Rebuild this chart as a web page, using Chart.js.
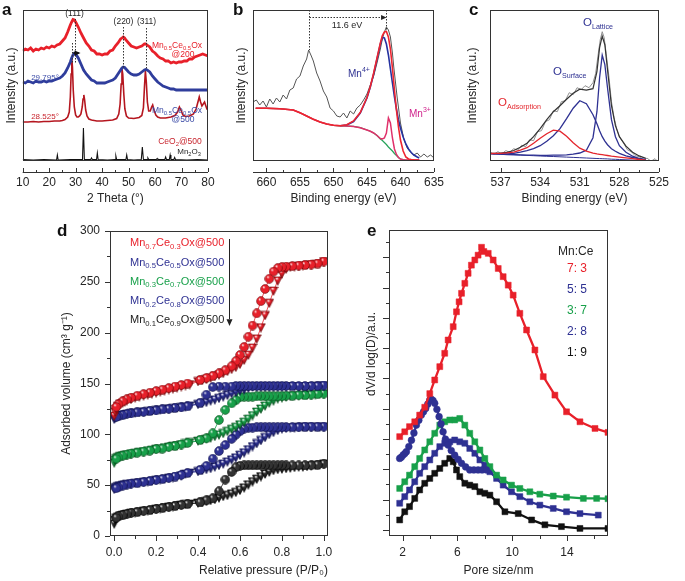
<!DOCTYPE html>
<html lang="en"><head><meta charset="utf-8"><title>Mn-Ce oxide characterisation</title>
<script src="https://cdn.jsdelivr.net/npm/chart.js@4.4.1/dist/chart.umd.min.js"></script>
<style>
html,body{margin:0;padding:0;background:#fff}
#wrap{position:relative;width:685px;height:581px;overflow:hidden;background:#fff}
canvas{position:absolute;display:block}
</style></head><body><div id="wrap">
<canvas id="ca" width="232" height="205" style="left:0px;top:0px;width:232px;height:205px"></canvas>
<canvas id="cb" width="228" height="205" style="left:232px;top:0px;width:228px;height:205px"></canvas>
<canvas id="cc" width="225" height="205" style="left:460px;top:0px;width:225px;height:205px"></canvas>
<canvas id="cd" width="345" height="366" style="left:0px;top:215px;width:345px;height:366px"></canvas>
<canvas id="ce" width="340" height="366" style="left:345px;top:215px;width:340px;height:366px"></canvas>
</div>
<script>
// ================= DATA =================
// --- panel a: XRD (2 theta, intensity a.u.)
const xrdGridTheta = [10,11,12,13,14,15,16,17,18,19,20,21,22,23,24,25,26,27,28,28.5,29,29.5,30,31,32,33,34,35,36,37,38,39,40,41,42,43,44,45,46,47,47.5,48,48.5,49,50,51,52,53,54,55,56,56.5,57,58,59,60,61,62,63,64,65,66,67,68,69,70,71,72,73,74,75,76,77,78,79,80];
const xrd200Int = [111,113,112,114,111,113,112,114,113,115,114,116,115,117,118,121,124,130,137,140,142.5,142,140,135,129,124,119,116,112,111,108,108,107,108,108,111,112,116,119,123,124,125,124,122,119,116,115,114,115,116,118,118,117,115,111,109,106,104,103,101,101,99,100,99,100,100,101,101,103,103,105,106,107,108,107,106];
const xrd500Int = [80,79,81,80,79,81,80,80,81,80,81,81,82,83,84,86,89,94,100,104,107,108.5,108,104,98,92,88,85,82,81,79,79,79,79,80,81,82,84,88,92,94,95,94.5,93,90,88,87,87,88,90,92,92.5,92,90,86,83,80,78,76,75,74,73,73,72,72,72,72,72,72,72,72,72,72,72,72,72];
const ceo2Theta = [10,12,14,16,18,20,22,24,25,26,27,27.6,28.0,28.3,28.55,28.8,29.1,29.5,30,30.5,31,31.5,32,32.5,32.8,33.1,33.4,33.8,34.3,35,36,38,40,42,44,45.5,46.3,46.8,47.2,47.5,47.8,48.2,48.6,49.2,50,52,54,55,55.6,56.0,56.35,56.7,57.1,57.6,58.2,58.7,59.1,59.6,60.3,61,62,64,66,67.5,68.5,69.2,69.8,70.5,71.5,73,74.5,75.5,76.2,76.7,77.2,77.7,78.2,78.7,79.2,79.6,80];
const ceo2Int = [40,40,40.5,40,40.5,40.5,41,41,41.5,42.5,45,50,65,88,104,95,72,55,47,45,45,46,48,55,63,67,62,52,46,43,42,41,41,41.5,42,43.5,48,58,78,93,88,68,53,46,44,43.5,44.5,46.5,54,75,91,80,60,51,51,55,57,52,47,45,44,44,45,46.5,50,55,52,47,45.5,46,48,53,60,65,60,56,58,60,56,53,52];
const mn2o3Theta = [10,14,18,22.8,23.1,23.4,28,32.6,32.95,33.3,35.7,36.0,36.3,37.9,38.2,38.5,42,44.9,45.2,45.5,49.0,49.3,49.6,52,54.8,55.2,55.6,57.0,57.3,57.6,60.5,60.8,61.1,63.7,64.0,64.3,65.4,65.7,66.0,67.1,67.4,67.7,72,76,80];
const mn2o3Int = [2.5,2,2.5,2,7,2,2.5,2.5,34,2.5,2.5,4,2.5,2.5,9,2.5,2,2.5,6,2.5,2.5,7,2.5,2,2.5,15,2.5,2.5,4,2.5,2.5,3.5,2.5,2.5,5,2.5,2.5,7,2.5,2.5,4.5,2.5,2,2.5,2];
const xrdTicks = [10,20,30,40,50,60,70,80];
const xrdMinor = [15,25,35,45,55,65,75];

// --- panel b: Mn 2p XPS
const bDataEnergy = [662,661.5,661,660.5,660,659.5,659,658.5,658,657.5,657,656.5,656,655.5,655,654.5,654,653.7,653.3,653,652.5,652,651.5,651,650.5,650,649.5,649,648.5,648,647.5,647,646.5,646,645.5,645,644.5,644,643.5,643,642.7,642.4,642.1,641.8,641.5,641.2,641,640.5,640,639.5,639,638.5,638,637.5,637,636.5,636,635.5,635];
const bDataIntensity = [63,65,60,64,58,66,61,67,63,70,66,75,77,86,89,99,106,115,109,104,92,84,74,68,57,54,49,48,52,47,54,51,57,60,65,71,80,89,102,116,126,133,138,135,128,112,98,68,42,26,17,13,10,12,8,11,8,10,7];
const bFitEnergy = [661.6,660,658,656,655,654,653,652,651,650,649,648,647,646,645,644.5,644,643.5,643,642.7,642.4,642.1,641.8,641.5,641.2,640.9,640.6,640.3,640,639.6,639.2,638.8,638.4,638,637.5,637.2];
const bBackground = [56.7,56.7,56.3,55,52.3,49,45.7,43,41,39.7,39.2,38.9,38.6,37.3,35,33.7,32,29.5,26,24.5,22.5,20.5,18,16,14,11.5,9.5,7.5,6,5.3,5,5,5,5,5,5];
const bMn3 = [56.7,56.7,56.3,55,52.3,49,45.7,43,41,39.7,39.2,38.9,38.6,37.3,35,33.7,32,29.5,26.5,26,27,32,47,42,27,16,10.5,7.5,6,5.3,5,5,5,5,5,5];
const bMn4 = [null,null,null,null,null,null,null,null,null,null,39.2,40,43.5,52,67,78,91,106,121,127.5,127,121,110,96,82,68,56,45,37,28,21,16,12.5,10,8,7];
const bEnvelope = [56.7,56.7,56.3,55,52.3,49,45.7,43,41,39.7,39.2,40.2,44,52.5,67.5,78.5,92,107,122,129.5,133,133.5,128,116,97,75,55,38,25,14,8,6,5.5,5.2,5,5];
const bTicks = [660,655,650,645,640,635];
const bMinor = [657.5,652.5,647.5,642.5,637.5];

// --- panel c: O 1s XPS
const cEnergy = [537.8,537,536.5,536,535.5,535,534.5,534,533.5,533,532.5,532,531.5,531,530.5,530,529.7,529.5,529.3,529.1,528.9,528.6,528.3,528,527.5,527,526.5,526];
const cBackground = [8.0,7.5,7.2,6.9,6.6,6.3,6.0,5.7,5.4,5.2,4.9,4.6,4.3,4.0,3.7,3.4,3.2,3.1,3.0,2.9,2.8,2.5,2.4,2.2,1.9,1.6,1.3,1.0];
const cAdsorption = [8.2,8.4,8.8,9.6,11.5,14.0,18.5,23.5,28.0,31.5,30.5,25.5,19.0,13.5,10.5,8.5,7.8,7.4,7.0,6.6,6.2,5.6,5.1,4.6,3.8,3.0,2.2,1.5];
const cSurface = [8.1,7.8,7.8,8.4,9.6,11.0,13.0,16.0,20.5,26.0,33.0,43.0,53.5,61.0,58.0,47.0,38.0,31.0,25.0,20.5,17.0,13.0,10.5,8.3,5.8,4.2,3.0,2.0];
const cLattice = [8.0,7.5,7.2,7.0,6.8,6.6,6.5,6.4,6.4,6.5,6.6,6.9,7.5,8.7,11.5,24.0,50.0,84.0,106.5,97.0,74.0,42.0,25.0,16.0,9.5,5.5,3.2,1.8];
const cEnvelope = [8.3,8.7,9.4,11.2,14.5,18.5,25.0,33.0,42.0,50.0,56.0,62.5,68.5,72.5,71.5,73.0,90.0,114.0,125.5,117.0,92.0,56.0,36.0,25.0,15.5,9.5,5.8,3.3];
const cDataEnergy = [537.8,537.5,537.2,536.9,536.6,536.3,536.0,535.7,535.4,535.1,534.8,534.5,534.2,533.9,533.6,533.3,533.0,532.7,532.4,532.1,531.8,531.5,531.2,530.9,530.6,530.3,530.0,529.8,529.6,529.45,529.3,529.15,529.0,528.8,528.6,528.4,528.2,528.0,527.7,527.4,527.1,526.8,526.5,526.2,525.9,525.6,525.3,525.0,524.8];
const cDataIntensity = [9.5,7.5,10,8,11,9.5,13,11.5,16.5,15,22,21,30,31,40,42,51,50,60,61,69,67,74,72,76,74,79,88,108,122,130,124,108,86,60,44,33,25,19,12,10,6,5,2,3.5,0.5,3,-1,2];
const cTicks = [537,534,531,528,525];
const cMinor = [535.5,532.5,529.5,526.5];

// --- panel d: N2 isotherms (P/P0, cm3/g)
const isothermLabels = ['Mn_{0.7}Ce_{0.3}Ox@500','Mn_{0.5}Ce_{0.5}Ox@500','Mn_{0.3}Ce_{0.7}Ox@500','Mn_{0.2}Ce_{0.8}Ox@500','Mn_{0.1}Ce_{0.9}Ox@500'];
const adsP = [0.0,0.005,0.01,0.02,0.03,0.04,0.05,0.06,0.08,0.10,0.12,0.14,0.16,0.18,0.20,0.22,0.24,0.26,0.28,0.30,0.32,0.34,0.36,0.40,0.42,0.44,0.46,0.48,0.50,0.52,0.54,0.56,0.58,0.60,0.62,0.64,0.66,0.68,0.70,0.72,0.74,0.76,0.78,0.80,0.82,0.84,0.86,0.88,0.90,0.92,0.94,0.96,0.98,1.0];
const desP = [1.0,0.97,0.94,0.91,0.88,0.85,0.82,0.80,0.78,0.76,0.74,0.72,0.70,0.68,0.66,0.64,0.62,0.60,0.58,0.56,0.53,0.50,0.47,0.44,0.41,0.35,0.32,0.29,0.26,0.23,0.20,0.17,0.14,0.11,0.08,0.06,0.04,0.02,0.01];
const ads73 = [118,122,125,128,130,131,132,133,134.5,136,137,138,139,140,141,142,143,144,145,146,147,148,149,152,153,154,155.5,157,158.5,160,162,164,166,169,173,178,185,194,205,217,229,241,251,258,262.5,264.5,265,265.5,266,266.5,267,267.5,268,270];
const des73 = [270,268,267,266.5,266,265.5,265,264.5,263.5,260,253,243,231,219,207,196,186,178,172,167,163,160,157.5,155.5,153.5,150,148.5,147,145.5,144,142.5,141,139.5,138,136,134.5,132.5,129.5,127];
const ads55 = [115,116.5,117,118,118.5,119,119.5,120,120.5,121,121.5,122,122.5,123,123.5,124,124.5,125,125.5,126,126.5,127,128,129.5,130.5,131.5,133,134,135.5,137,138.5,140,141.5,143,144,145.5,146.5,147,147,147,147,147,147,147,147,147,147,147,147,147,147,147.5,147.5,148];
const des55 = [148,147.5,147.5,147.5,147.5,147.5,147.5,147.5,147.5,147.5,147.5,147.5,147.5,147.5,147.5,147.5,147.5,147.5,147.5,147,147,147,146.5,139,131,127.5,126.5,126,125,124.5,123.5,123,122,121.5,120.5,120,119,118,117];
const ads37 = [72,75,76.5,77.5,78.5,79,79.5,80,81,81.5,82.5,83,84,84.5,85.5,86,87,87.5,88.5,89,90,91,92,93.5,94.5,95.5,96.5,98,99.5,101,103,105,107,109.5,112,115,118.5,122,125,128,131,133,135,136,137,137.5,138,138,138.5,138.5,139,139,139.5,140];
const des37 = [140,139.5,139,138.5,138.5,138,138,137.5,137.5,137.5,137.5,137.5,137.5,137.5,137,137,137,136.5,133.5,130.5,124,114,101,96,94.5,91.5,90,88.5,87.5,86,85.5,84,83,82,81,80,79,77.5,76];
const ads28 = [46,47,48,49,49.5,50,50.5,51,51.5,52,52.5,53,53.5,54,55,55.5,56,57,57.5,58.5,59.5,61,62,63.5,64.5,65.5,66.5,68,69.5,71,73,75,77,79.5,82,85,88,91,94,97,100,102,104,105.5,106,106.5,106.5,107,107,107,107,107,107,107.5];
const des28 = [107.5,107.5,107.5,107.5,107,107,107,107,107,107,107,107,107,107,106.5,106.5,105.5,103,99.5,95.5,89.5,83.5,76,69,65,62,60,58.5,57,56,55,54,53,52,51.5,50.5,49.5,48,47];
const ads19 = [12,16,18,19,20,20.5,21,21.5,22.5,23,24,24.5,25,25.5,26.5,27,28,28.5,29,30,30.5,31,31.5,32.5,33,34,35,36,37.5,39,40,41.5,43,45,47.5,50.5,53.5,56,58.5,61,63,64.5,65.5,66,66.5,67,67.5,68,68,68.5,69,69.5,70,71];
const des19 = [71,70,69.5,69.5,69.5,69.5,69.5,69.5,69.5,69.5,69.5,69.5,69.5,69.5,69.5,69.5,69.5,69,67.5,63,55.5,44,37,35,33,31.5,30.5,29.5,28.5,27.5,26.5,25.5,24.5,23.5,22.5,21.5,20.5,19.5,18];
const dTicksX = [0,0.2,0.4,0.6,0.8,1.0];
const dMinorX = [0.1,0.3,0.5,0.7,0.9];
const dTicksY = [0,50,100,150,200,250,300];
const dMinorY = [25,75,125,175,225,275];

// --- panel e: pore size distributions (nm, dV/dlogD a.u.)
const ratioLabels = ['7: 3','5: 5','3: 7','2: 8','1: 9'];
const pore73 = [1.78,2.15,2.5,2.88,3.24,3.61,3.98,4.34,4.71,5.07,5.32,5.69,5.93,6.12,6.3,6.54,6.78,7.02,7.27,7.51,7.76,7.93,8.25,8.61,8.98,9.34,9.71,10.07,10.56,11.05,11.66,12.27,13.12,13.97,14.95,16.05,17.0];
const dv73 = [3.08,3.24,3.41,3.57,3.79,4.05,4.5,4.95,5.39,5.83,6.27,6.71,7.2,7.53,7.81,8.14,8.47,8.74,8.91,9.07,9.33,9.19,9.13,8.91,8.63,8.36,8.08,7.75,7.15,6.6,5.94,5.06,4.45,3.9,3.57,3.35,3.22];
const pore55 = [1.78,1.9,2.03,2.15,2.27,2.45,2.64,2.82,3.0,3.18,3.36,3.52,3.68,3.83,3.98,4.1,4.22,4.34,4.5,4.66,4.8,4.95,5.12,5.32,5.55,5.8,6.05,6.3,6.6,6.9,7.2,7.51,7.8,8.12];
const dv55 = [2.36,2.4,2.47,2.52,2.58,2.75,2.96,3.2,3.46,3.62,3.79,3.9,4.01,4.15,4.29,4.31,4.27,4.18,3.98,3.74,3.5,3.24,3.0,2.8,2.62,2.47,2.33,2.2,2.08,1.98,1.98,1.98,1.98,1.98];
const pore37 = [1.78,2.15,2.5,2.88,3.24,3.61,3.98,4.34,4.71,5.07,5.44,5.8,6.17,6.54,6.9,7.27,7.64,8.0,8.37,8.86,9.34,9.95,10.56,11.29,12.02,13.0,13.97,15.2,16.17,17.0];
const dv37 = [1.37,1.59,1.81,2.09,2.36,2.64,2.91,3.19,3.46,3.57,3.63,3.63,3.68,3.46,3.19,2.91,2.64,2.36,2.09,1.81,1.65,1.48,1.37,1.26,1.18,1.12,1.08,1.04,1.04,1.03];
const pore28 = [1.78,2.15,2.5,2.88,3.24,3.61,3.98,4.34,4.71,5.07,5.44,5.8,6.17,6.54,6.9,7.27,7.64,8.0,8.37,8.86,9.34,9.95,10.56,11.29,12.02,13.0,13.97,14.95,16.29];
const dv28 = [0.88,1.1,1.32,1.59,1.87,2.09,2.31,2.53,2.75,2.86,2.91,2.97,2.91,2.86,2.69,2.53,2.31,2.14,1.92,1.7,1.48,1.26,1.1,0.93,0.82,0.71,0.6,0.54,0.49];
const pore19 = [1.78,2.15,2.5,2.88,3.24,3.61,3.98,4.34,4.71,5.07,5.44,5.69,5.93,6.17,6.54,6.9,7.27,7.64,8.0,8.37,8.86,9.47,10.44,11.42,12.39,13.6,14.95,17.0];
const dv19 = [0.33,0.6,0.77,1.04,1.32,1.54,1.7,1.87,2.03,2.2,2.36,2.25,1.98,1.76,1.54,1.48,1.43,1.26,1.21,1.15,0.93,0.6,0.54,0.33,0.17,0.11,0.05,0.05];
const eTicksX = [2,6,10,14];
const eMinorX = [4,8,12,16];
const eTicksY = [0,1,2,3,4,5,6,7,8,9];
const eMinorY = [0.5,1.5,2.5,3.5,4.5,5.5,6.5,7.5,8.5,9.5];

// ================= STYLE / HELPERS =================
const FONT = '"Liberation Sans", Arial, Helvetica, sans-serif';
const INK = '#262626';
const RED = '#e8202a', BLUE = '#2e3192', GREEN = '#18a04a', CRIMSON = '#c8252e', MAGENTA = '#cf1f8a';
Chart.defaults.font.family = FONT;
Chart.defaults.color = INK;

const pts = (xs, ys) => xs.map((x, i) => ({x: x, y: ys[i]})).filter(p => p.y !== null && p.y !== undefined);
function lineDs(xs, ys, color, width) {
  return {data: pts(xs, ys), showLine: true, borderColor: color, backgroundColor: color, borderWidth: width,
          pointRadius: 0, pointHoverRadius: 0, fill: false, tension: 0};
}

function rich(ctx, str, x, y, size, color, align, subScale) {
  const segs = []; const re = /([_^])\{([^}]*)\}/g; let last = 0, m;
  while ((m = re.exec(str))) {
    if (m.index > last) segs.push({t: str.slice(last, m.index), k: 'n'});
    segs.push({t: m[2], k: m[1] === '_' ? 's' : 'p'}); last = re.lastIndex;
  }
  if (last < str.length) segs.push({t: str.slice(last), k: 'n'});
  const sub = size * (subScale || 0.7);
  const fontOf = s => (s.k === 'n' ? size : sub) + 'px ' + FONT;
  let w = 0;
  segs.forEach(s => { ctx.font = fontOf(s); s.w = ctx.measureText(s.t).width; w += s.w; });
  let cx = align === 'center' ? x - w / 2 : align === 'right' ? x - w : x;
  ctx.save(); ctx.fillStyle = color; ctx.textBaseline = 'middle'; ctx.textAlign = 'left';
  segs.forEach(s => {
    ctx.font = fontOf(s);
    const dy = s.k === 's' ? size * 0.33 : s.k === 'p' ? -size * 0.38 : 0;
    ctx.fillText(s.t, cx, y + dy); cx += s.w;
  });
  ctx.restore();
}
function letter(ctx, t, x, y) {
  ctx.save(); ctx.font = 'bold 17px ' + FONT; ctx.fillStyle = '#111'; ctx.textBaseline = 'alphabetic'; ctx.textAlign = 'left';
  ctx.fillText(t, x, y); ctx.restore();
}
function dotted(ctx, x1, y1, x2, y2) {
  ctx.save(); ctx.strokeStyle = '#333'; ctx.lineWidth = 1; ctx.setLineDash([1.5, 1.5]);
  ctx.beginPath(); ctx.moveTo(x1, y1); ctx.lineTo(x2, y2); ctx.stroke(); ctx.restore();
}
function head(ctx, x, y, ang, s, color) {
  ctx.save(); ctx.translate(x, y); ctx.rotate(ang); ctx.fillStyle = color;
  ctx.beginPath(); ctx.moveTo(0, 0); ctx.lineTo(-s * 1.7, -s * 0.75); ctx.lineTo(-s * 1.7, s * 0.75); ctx.closePath(); ctx.fill();
  ctx.restore();
}
const px5 = v => Math.round(v) + 0.5;

// decoration registry (box, ticks, notes) keyed by canvas id
const DECO = {};
const decoPlugin = {
  id: 'deco',
  afterDraw(chart) {
    const d = DECO[chart.canvas.id]; if (!d) return;
    const ctx = chart.ctx, a = chart.chartArea, xs = chart.scales.x, ys = chart.scales.y;
    ctx.save();
    ctx.strokeStyle = '#333'; ctx.lineWidth = 1;
    ctx.strokeRect(px5(a.left), px5(a.top), Math.round(a.right) - Math.round(a.left) - 1, Math.round(a.bottom) - Math.round(a.top) - 1);
    if (d.xt) {
      const t = d.xt; const y0 = t.y === 'bottom' ? Math.round(a.bottom) : t.y;
      ctx.beginPath();
      if (t.line) { ctx.moveTo(a.left, y0 + 0.5); ctx.lineTo(a.right, y0 + 0.5); }
      t.major.forEach(v => { const p = px5(xs.getPixelForValue(v)); ctx.moveTo(p, y0); ctx.lineTo(p, y0 + t.dir * t.maj); });
      t.minor.forEach(v => { const p = px5(xs.getPixelForValue(v)); ctx.moveTo(p, y0); ctx.lineTo(p, y0 + t.dir * t.min); });
      ctx.stroke();
    }
    if (d.yt) {
      const t = d.yt; const x0 = Math.round(a.left);
      ctx.beginPath();
      t.major.forEach(v => { const p = px5(ys.getPixelForValue(v)); ctx.moveTo(x0, p); ctx.lineTo(x0 - t.maj, p); });
      t.minor.forEach(v => { const p = px5(ys.getPixelForValue(v)); ctx.moveTo(x0, p); ctx.lineTo(x0 - t.min, p); });
      ctx.stroke();
    }
    ctx.restore();
    if (d.draw) d.draw(ctx, chart);
  }
};

function axisX(o) {
  return {
    type: 'linear', position: 'bottom', min: o.min, max: o.max, reverse: !!o.reverse,
    grid: {display: false, drawTicks: false}, border: {display: false},
    ticks: {autoSkip: false, maxRotation: 0, minRotation: 0, padding: o.pad, color: INK,
            font: {family: FONT, size: 12, lineHeight: 1}, callback: o.fmt || (v => String(v))},
    title: {display: !!o.title, text: o.title, color: INK, align: o.align || 'center',
            font: {family: FONT, size: 12, lineHeight: 1}, padding: {top: 0, bottom: o.titlePad || 0}},
    afterBuildTicks: s => { s.ticks = o.ticks.map(v => ({value: v})); },
    afterFit: s => { s.height = o.h; }
  };
}
function axisY(o) {
  return {
    type: 'linear', position: 'left', min: o.min, max: o.max,
    grid: {display: false, drawTicks: false}, border: {display: false},
    ticks: {display: !!o.labels, autoSkip: false, padding: o.pad || 0, color: INK, font: {family: FONT, size: 12, lineHeight: 1}},
    title: {display: !!o.title, text: o.title, color: INK, font: {family: FONT, size: 12, lineHeight: 1}, padding: {top: o.titlePad || 0, bottom: 0}},
    afterBuildTicks: s => { s.ticks = (o.ticks || [o.min, o.max]).map(v => ({value: v})); },
    afterFit: s => { s.width = o.w; }
  };
}
function make(id, W, H, L, T, R, B, datasets, x, y) {
  x.h = H - B; y.w = L;
  return new Chart(document.getElementById(id), {
    type: 'scatter',
    data: {datasets: datasets},
    options: {
      responsive: false, animation: false, devicePixelRatio: 1,
      layout: {padding: {left: 0, top: T, right: W - R, bottom: 0}},
      plugins: {legend: {display: false}, tooltip: {enabled: false}},
      events: [],
      scales: {x: axisX(x), y: axisY(y)}
    },
    plugins: [decoPlugin]
  });
}

// marker images for isotherms (shaded spheres / triangles)
function sphere(color, dark, d) {
  const c = document.createElement('canvas'); c.width = c.height = d;
  const g = c.getContext('2d'); const r = d / 2;
  const grd = g.createRadialGradient(r * 0.7, r * 0.6, 0.2, r, r, r);
  grd.addColorStop(0, '#ffffff'); grd.addColorStop(0.28, color); grd.addColorStop(0.8, color); grd.addColorStop(1, dark);
  g.fillStyle = grd; g.beginPath(); g.arc(r, r, r - 0.6, 0, Math.PI * 2); g.fill();
  g.strokeStyle = dark; g.lineWidth = 0.6; g.stroke();
  return c;
}
function triDown(color, dark, d) {
  const c = document.createElement('canvas'); c.width = c.height = d;
  const g = c.getContext('2d'); const r = d / 2;
  const grd = g.createRadialGradient(r * 0.8, r * 0.5, 0.2, r, r * 0.8, r);
  grd.addColorStop(0, '#ffffff'); grd.addColorStop(0.3, color); grd.addColorStop(1, dark);
  g.fillStyle = grd; g.beginPath(); g.moveTo(0.6, 1); g.lineTo(d - 0.6, 1); g.lineTo(r, d - 0.6); g.closePath(); g.fill();
  g.strokeStyle = dark; g.lineWidth = 0.6; g.stroke();
  return c;
}
function isoDs(xs, ys, color, img) {
  return {data: pts(xs, ys), showLine: true, borderColor: color, borderWidth: 0.8, pointStyle: img,
          pointRadius: 4.5, pointHoverRadius: 4.5, tension: 0};
}

// ================= PANEL a =================
DECO.ca = {
  xt: {y: 172, line: true, dir: -1, maj: 4, min: 2, major: xrdTicks, minor: xrdMinor},
  draw(ctx, ch) {
    const X = v => px5(ch.scales.x.getPixelForValue(v));
    dotted(ctx, X(29.6), 19, X(29.6), 63);
    dotted(ctx, X(28.6), 43, X(28.6), 63);
    dotted(ctx, X(47.8), 27, X(47.8), 68);
    dotted(ctx, X(56.5), 28, X(56.5), 70);
    ctx.save(); ctx.strokeStyle = '#111'; ctx.lineWidth = 1.8; ctx.beginPath();
    ctx.moveTo(X(29.0), 53); ctx.lineTo(X(31.0), 53); ctx.stroke(); ctx.restore();
    head(ctx, X(31.8), 53, 0, 3.5, '#111');
    rich(ctx, '(111)', X(29.4), 14, 8.5, INK, 'center');
    rich(ctx, '(220)', X(47.8), 22, 8.5, INK, 'center');
    rich(ctx, '(311)', X(56.6), 22, 8.5, INK, 'center');
    rich(ctx, 'Mn_{0.5}Ce_{0.5}Ox', 202, 46, 8.5, RED, 'right');
    rich(ctx, '@200', 183, 55, 8.5, RED, 'center');
    rich(ctx, '29.795°', 45, 78, 8, '#3a4aa6', 'center');
    rich(ctx, 'Mn_{0.5}Ce_{0.5}Ox', 202, 111, 8.5, '#3a4aa6', 'right');
    rich(ctx, '@500', 183, 120, 8.5, '#3a4aa6', 'center');
    rich(ctx, '28.525°', 45, 117, 8, CRIMSON, 'center');
    rich(ctx, 'CeO_{2}@500', 180, 142, 8.5, CRIMSON, 'center');
    rich(ctx, 'Mn_{2}O_{3}', 189, 152, 8, INK, 'center');
    letter(ctx, 'a', 2, 15);
  }
};
make('ca', 232, 205, 19, 10, 208, 161, [
  lineDs(xrdGridTheta, xrd200Int, RED, 2.8),
  lineDs(xrdGridTheta, xrd500Int, '#2f3d9c', 2.8),
  lineDs(ceo2Theta, ceo2Int, '#b5161f', 1.6),
  lineDs(mn2o3Theta, mn2o3Int, '#111', 1.1)
], {min: 10, max: 80, ticks: xrdTicks, pad: 16, title: '2 Theta (°)', titlePad: 0},
   {min: 1, max: 152, title: 'Intensity (a.u.)', titlePad: 2});

// ================= PANEL b =================
DECO.cb = {
  xt: {y: 172, line: true, dir: -1, maj: 4, min: 2, major: bTicks, minor: bMinor},
  draw(ctx, ch) {
    const X = v => px5(ch.scales.x.getPixelForValue(v));
    dotted(ctx, X(653.6), 10, X(653.6), 50);
    dotted(ctx, X(642.1), 10, X(642.1), 31);
    dotted(ctx, X(653.6), 17.5, X(642.1) - 5, 17.5);
    head(ctx, X(642.1), 17.5, 0, 3.2, '#222');
    rich(ctx, '11.6 eV', 115, 26, 9, INK, 'center');
    rich(ctx, 'Mn^{4+}', 116, 74, 10, BLUE, 'left');
    rich(ctx, 'Mn^{3+}', 177, 114, 10, MAGENTA, 'left');
    letter(ctx, 'b', 1, 15);
  }
};
make('cb', 228, 205, 21, 10, 207, 161, [
  lineDs(bFitEnergy, bEnvelope, '#ee2530', 1.6),
  lineDs(bFitEnergy, bMn3, '#e0306a', 1.5),
  lineDs(bFitEnergy, bMn4, '#2532a0', 1.6),
  lineDs(bFitEnergy, bBackground, '#27a35a', 1.2),
  lineDs(bDataEnergy, bDataIntensity, '#555', 1.0)
], {min: 635, max: 662, reverse: true, ticks: bTicks, pad: 16, title: 'Binding energy (eV)', titlePad: 0},
   {min: 4, max: 155, title: 'Intensity (a.u.)', titlePad: 4});

// ================= PANEL c =================
DECO.cc = {
  xt: {y: 172, line: true, dir: -1, maj: 4, min: 2, major: cTicks, minor: cMinor},
  draw(ctx, ch) {
    rich(ctx, 'O_{Lattice}', 123, 23, 11.5, BLUE, 'left', 0.62);
    rich(ctx, 'O_{Surface}', 93, 72, 11.5, BLUE, 'left', 0.62);
    rich(ctx, 'O_{Adsorption}', 38, 103, 11.5, '#e4252c', 'left', 0.62);
    letter(ctx, 'c', 9, 15);
  }
};
make('cc', 225, 205, 30, 10, 215, 161, [
  lineDs(cEnergy, cAdsorption, '#e4252c', 1.3),
  lineDs(cEnergy, cSurface, BLUE, 1.3),
  lineDs(cEnergy, cLattice, BLUE, 1.3),
  lineDs(cEnergy, cBackground, BLUE, 1.0),
  lineDs(cEnergy, cEnvelope, '#333', 1.2),
  lineDs(cDataEnergy, cDataIntensity, '#909090', 1.0)
], {min: 525, max: 537.8, reverse: true, ticks: cTicks, pad: 16, title: 'Binding energy (eV)', titlePad: 0},
   {min: 0.7, max: 151.7, title: 'Intensity (a.u.)', titlePad: 7});

// ================= PANEL d =================
const isoColors = [RED, BLUE, GREEN, BLUE, '#1a1a1a'];
const isoDark = ['#7a0a0e', '#10134d', '#08501f', '#10134d', '#000000'];
const spheres = isoColors.map((c, i) => sphere(i === 4 ? '#333' : c, isoDark[i], 10));
const tris = isoColors.map((c, i) => triDown(i === 4 ? '#333' : c, isoDark[i], 10));
DECO.cd = {
  xt: {y: 'bottom', line: false, dir: 1, maj: 5, min: 3, major: dTicksX, minor: dMinorX},
  yt: {maj: 5, min: 3, major: dTicksY, minor: dMinorY},
  draw(ctx, ch) {
    const ys = [28, 47.7, 66.7, 86, 105];
    isothermLabels.forEach((t, i) => rich(ctx, t, 130, ys[i], 11, isoColors[i], 'left'));
    ctx.save(); ctx.strokeStyle = '#222'; ctx.lineWidth = 1; ctx.beginPath();
    ctx.moveTo(229.5, 24); ctx.lineTo(229.5, 104); ctx.stroke(); ctx.restore();
    head(ctx, 229.5, 111, Math.PI / 2, 4, '#222');
    letter(ctx, 'd', 57, 21);
  }
};
make('cd', 345, 366, 110, 15, 328, 321, [
  isoDs(desP, des73, RED, spheres[0]), isoDs(adsP, ads73, RED, tris[0]),
  isoDs(desP, des55, BLUE, spheres[1]), isoDs(adsP, ads55, BLUE, tris[1]),
  isoDs(desP, des37, GREEN, spheres[2]), isoDs(adsP, ads37, GREEN, tris[2]),
  isoDs(desP, des28, BLUE, spheres[3]), isoDs(adsP, ads28, BLUE, tris[3]),
  isoDs(desP, des19, '#1a1a1a', spheres[4]), isoDs(adsP, ads19, '#1a1a1a', tris[4])
], {min: -0.02, max: 1.02, ticks: dTicksX, pad: 11, fmt: v => v.toFixed(1), title: 'Relative pressure (P/P\u2080)', align: 'end', titlePad: 4},
   {min: 0, max: 300, ticks: dTicksY, labels: true, pad: 10, title: 'Adsorbed volume (cm\u00B3 g\u207B\u00B9)', titlePad: 61});

// ================= PANEL e =================
const poreColors = [RED, BLUE, GREEN, BLUE, '#111'];
function poreDs(xs, ys, color, style, r) {
  return {data: pts(xs, ys), showLine: true, borderColor: color, borderWidth: 2.3, pointStyle: style,
          pointRadius: r, pointHoverRadius: r, pointBackgroundColor: color, pointBorderColor: color, pointBorderWidth: 0.5, tension: 0};
}
DECO.ce = {
  xt: {y: 'bottom', line: false, dir: 1, maj: 5, min: 3, major: eTicksX, minor: eMinorX},
  yt: {maj: 6, min: 3, major: eTicksY, minor: eMinorY},
  draw(ctx, ch) {
    rich(ctx, 'Mn:Ce', 213, 37, 12, INK, 'left');
    const ys = [54, 75, 96, 117, 138];
    ratioLabels.forEach((t, i) => rich(ctx, t, 222, ys[i], 12, poreColors[i], 'left'));
    ctx.save(); ctx.translate(27, 139); ctx.rotate(-Math.PI / 2);
    ctx.font = '12px ' + FONT; ctx.fillStyle = INK; ctx.textAlign = 'center'; ctx.textBaseline = 'middle';
    ctx.fillText('dV/d log(D)/a.u.', 0, 0); ctx.restore();
    letter(ctx, 'e', 22, 21);
  }
};
make('ce', 340, 366, 44, 15, 263, 321, [
  poreDs(pore73, dv73, RED, 'rect', 4.2),
  poreDs(pore55, dv55, BLUE, 'circle', 3.4),
  poreDs(pore37, dv37, GREEN, 'rect', 4.2),
  poreDs(pore28, dv28, BLUE, 'rect', 4.2),
  poreDs(pore19, dv19, '#111', 'rect', 4.2)
], {min: 1, max: 17, ticks: eTicksX, pad: 11, title: 'Pore size/nm', titlePad: 4},
   {min: -0.2, max: 9.9, ticks: eTicksY, labels: false});
</script></body></html>
